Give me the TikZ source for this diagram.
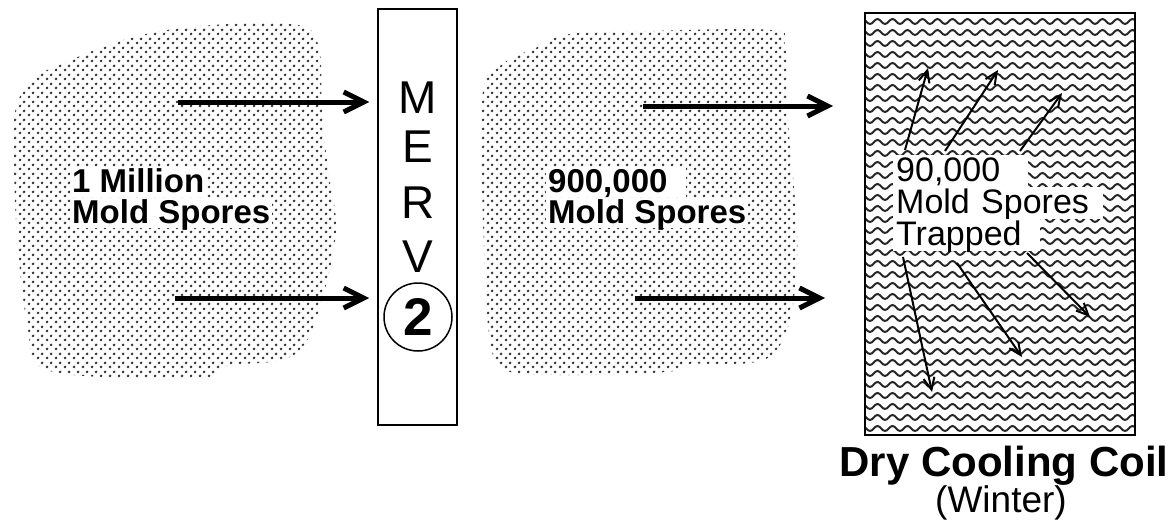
\documentclass[tikz,border=0pt]{standalone}
\usepackage{fontspec}
\setmainfont{Liberation Sans}
\usetikzlibrary{arrows.meta,patterns}

\pgfdeclarepatternformonly{spores}{\pgfqpoint{0pt}{0pt}}{\pgfqpoint{9pt}{9pt}}{\pgfqpoint{9pt}{9pt}}{%
  \pgfpathcircle{\pgfqpoint{2.25pt}{2.25pt}}{1.6pt}%
  \pgfpathcircle{\pgfqpoint{6.75pt}{6.75pt}}{1.6pt}%
  \pgfusepath{fill}}
\pgfdeclarepatternformonly{coilwave}{\pgfqpoint{-1pt}{-1pt}}{\pgfqpoint{16pt}{12pt}}{\pgfqpoint{15pt}{11pt}}{%
  \pgfsetlinewidth{2pt}%
  \pgfpathmoveto{\pgfqpoint{0pt}{3pt}}%
  \pgfpathcurveto{\pgfqpoint{2.8pt}{3pt}}{\pgfqpoint{4.7pt}{8pt}}{\pgfqpoint{7.5pt}{8pt}}%
  \pgfpathcurveto{\pgfqpoint{10.3pt}{8pt}}{\pgfqpoint{12.2pt}{3pt}}{\pgfqpoint{15pt}{3pt}}%
  \pgfusepath{stroke}}

\begin{document}
\begin{tikzpicture}[x=1pt,y=-1pt,
    cloud/.style ={pattern=spores, pattern color=black!80},
    bold/.style ={fill=white, inner xsep=2pt, inner ysep=0pt, text height=25pt, text depth=5pt,
      anchor=base west, font=\fontsize{33}{35}\selectfont\bfseries},
    thin/.style ={fill=white, inner xsep=3pt, inner ysep=0pt, text height=26pt, text depth=6pt,
      anchor=base west, align=left, font=\fontsize{34}{36}\selectfont},
    letter/.style ={anchor=base, font=\fontsize{46}{46}\selectfont},
    flow/.style ={line width=5pt, -{Straight Barb[length=20pt,width=20pt]}},
    trap/.style ={line width=2pt, -{Straight Barb[length=12pt,width=11pt]}}]
  \useasboundingbox (0,0) rectangle (1168,522);

  \fill[cloud] plot[smooth cycle, tension=0.6] coordinates {(15,112) (32,80) (66,62) (130,38) (200,26)
    (292,24) (318,44) (322,110) (328,170) (336,230) (322,300) (306,342) (282,360) (226,366)
    (206,378) (120,378) (42,368) (28,330) (18,250) (14,170)};
  \fill[cloud] plot[smooth cycle, tension=0.6] coordinates {(482,100) (500,66) (540,46) (570,34)
    (650,31) (770,30) (785,46) (788,120) (795,200) (797,260) (790,320) (772,355) (740,364)
    (692,364) (666,372) (560,375) (505,370) (490,340) (484,250)};

  \node[bold] (left1) at (70,192) {1 Million};
  \node[bold] (left2) at (70,223) {Mold Spores};
  \node[bold, text width=136pt] (mid1) at (546,192) {900,000};
  \node[bold] (mid2) at (546,223) {Mold Spores};

  \node[draw, line width=1.5pt, minimum width=79pt, minimum height=416pt, inner sep=0pt] (filter) at (417.5,217) {};
  \node[letter] (m) at (418,113) {M};
  \node[letter] (e) at (418,162) {E};
  \node[letter] (r) at (418,218) {R};
  \node[letter] (v) at (418,272) {V};
  \node[draw, circle, line width=1.5pt, minimum size=68pt, inner sep=0pt,
    font=\fontsize{53}{53}\selectfont\bfseries] (two) at (418,317) {2};

  \node[draw, line width=1.5pt, pattern=coilwave, pattern color=black!85, minimum width=270pt,
    minimum height=422pt, inner sep=0pt] (coil) at (1000,224) {};
  \node[thin, text width=129pt] (trap1) at (893,181) {90,000};
  \node[thin, text width=204pt] (trap2) at (893,213) {Mold Spores};
  \node[thin, text width=141pt] (trap3) at (893,245) {Trapped};

  \node[font=\fontsize{42}{42}\selectfont\bfseries, anchor=base] (title) at (1004,476) {Dry Cooling Coil};
  \node[font=\fontsize{37}{37}\selectfont, anchor=base] (season) at (1001,512) {(Winter)};

  \coordinate (in1) at (178,102);
  \coordinate (in2) at (175,298);
  \coordinate (out1) at (643,106);
  \coordinate (out2) at (635,298);
  \coordinate (hit1) at (833,106);
  \coordinate (hit2) at (825,298);
  \draw[flow] (in1) -- ([xshift=-8pt]filter.west |- in1);
  \draw[flow] (in2) -- ([xshift=-8pt]filter.west |- in2);
  \draw[flow] (out1) -- (hit1);
  \draw[flow] (out2) -- (hit2);

  \coordinate (s1) at (905,150);
  \coordinate (s2) at (945,151);
  \coordinate (s3) at (1020,151);
  \coordinate (s4) at (903,257);
  \coordinate (s5) at (957,263);
  \coordinate (s6) at (1027,253);
  \coordinate (t1) at (928,68);
  \coordinate (t2) at (998,70);
  \coordinate (t3) at (1062,93);
  \coordinate (t4) at (932,392);
  \coordinate (t5) at (1022,357);
  \coordinate (t6) at (1090,317);
  \foreach \i in {1,...,6}
    \draw[trap] (s\i) -- (t\i);
\end{tikzpicture}
\end{document}
